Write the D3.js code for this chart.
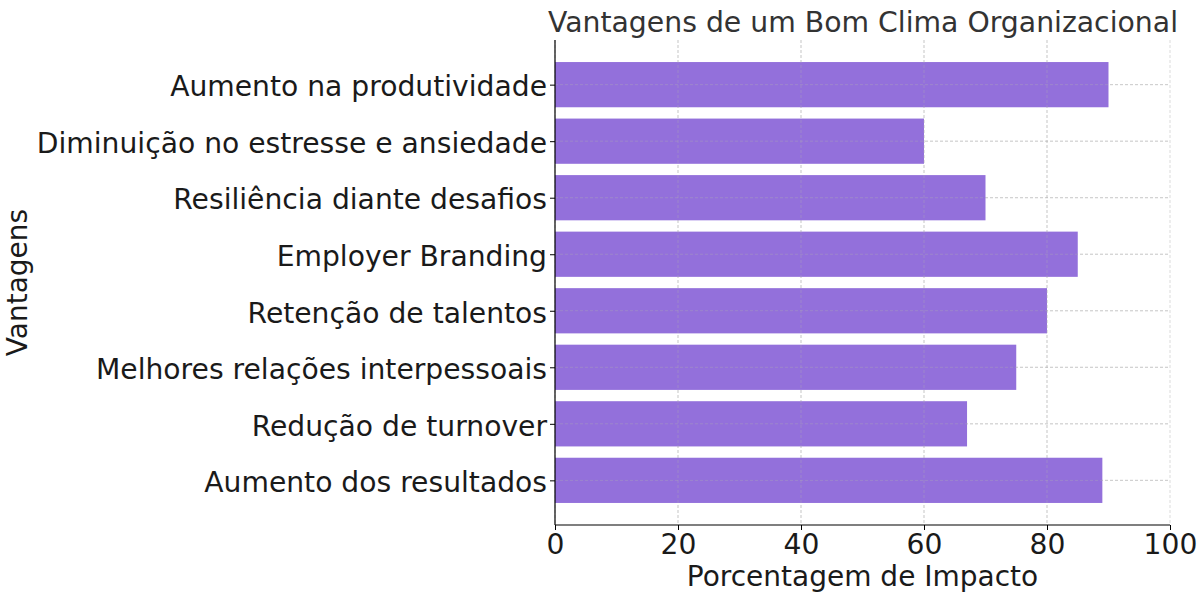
<!DOCTYPE html>
<html>
<head>
<meta charset="utf-8">
<script src="https://cdn.jsdelivr.net/npm/d3@7"></script>
<style>
  html, body { margin: 0; padding: 0; background: #fff; }
  svg { display: block; font-family: "DejaVu Sans", sans-serif; }
</style>
</head>
<body>
<svg id="chart" width="1201" height="602"></svg>
<script>
const categories = [
  "Aumento na produtividade",
  "Diminuição no estresse e ansiedade",
  "Resiliência diante desafios",
  "Employer Branding",
  "Retenção de talentos",
  "Melhores relações interpessoais",
  "Redução de turnover",
  "Aumento dos resultados"
];
const values = [90, 60, 70, 85, 80, 75, 67, 89];
const xTicks = [0, 20, 40, 60, 80, 100];
const title = "Vantagens de um Bom Clima Organizacional";
const xLabel = "Porcentagem de Impacto";
const yLabel = "Vantagens";

(function () {
const svg = d3.select("#chart");
const pLeft = 555, pRight = 1170, pTop = 40, pBottom = 525;

const x = d3.scaleLinear().domain([0, 100]).range([pLeft, pRight]);
// matplotlib-style: categories at integer positions, margins 0.05
const n = categories.length;
const lo = -0.4 - 0.05 * (n - 1 + 0.8), hi = (n - 1) + 0.4 + 0.05 * (n - 1 + 0.8);
const yPos = d3.scaleLinear().domain([lo, hi]).range([pTop, pBottom]);
const bh = yPos(0.4) - yPos(-0.4);

function drawGrid(g, xs, op) {
  g.selectAll("line.v").data(xs).join("line").attr("class", "v")
    .attr("x1", d => x(d)).attr("x2", d => x(d))
    .attr("y1", pTop).attr("y2", pBottom)
    .attr("stroke", "#b0b0b0").attr("stroke-opacity", op)
    .attr("stroke-width", 0.8).attr("stroke-dasharray", "3,2");
  g.selectAll("line.h").data(categories).join("line").attr("class", "h")
    .attr("x1", pLeft).attr("x2", pRight)
    .attr("y1", (d, i) => yPos(i)).attr("y2", (d, i) => yPos(i))
    .attr("stroke", "#b0b0b0").attr("stroke-opacity", op)
    .attr("stroke-width", 0.8).attr("stroke-dasharray", "3,2");
}
drawGrid(svg.append("g"), xTicks, 0.6);

// bars
svg.append("g").selectAll("rect").data(values).join("rect")
  .attr("x", x(0))
  .attr("y", (d, i) => yPos(i) - bh / 2)
  .attr("width", d => x(d) - x(0))
  .attr("height", bh)
  .attr("fill", "#9370DB");

drawGrid(svg.append("g"), xTicks.slice(1, -1), 0.45);

// x axis
const xAxis = d3.axisBottom(x).tickValues(xTicks).tickSize(5).tickPadding(4).tickFormat(d3.format("d"));
const gx = svg.append("g").attr("transform", `translate(0,${pBottom})`).call(xAxis);
gx.select(".domain").attr("stroke", "#000").attr("stroke-width", 1.2).attr("d", `M${pLeft},0H${pRight}`);
gx.selectAll(".tick line").attr("stroke", "#000").attr("stroke-width", 1);
gx.selectAll(".tick text").attr("font-size", 28.2).attr("fill", "#1a1a1a").attr("font-family", "DejaVu Sans");

// y axis
const yAxis = d3.axisLeft(yPos).tickValues(d3.range(n)).tickSize(5).tickPadding(3).tickFormat(i => categories[i]);
const gy = svg.append("g").attr("transform", `translate(${pLeft},0)`).call(yAxis);
gy.select(".domain").attr("stroke", "#000").attr("stroke-width", 1.2).attr("d", `M0,${pTop}V${pBottom}`);
gy.selectAll(".tick line").attr("stroke", "#000").attr("stroke-width", 1);
gy.selectAll(".tick text").attr("font-size", 28.2).attr("fill", "#1a1a1a").attr("font-family", "DejaVu Sans")
  .attr("dy", "0.4em");

// title and labels
svg.append("text").attr("x", (pLeft + pRight) / 2 + 0.5).attr("y", 32)
  .attr("text-anchor", "middle").attr("font-size", 28.3).attr("fill", "#333")
  .text(title);
svg.append("text").attr("x", (pLeft + pRight) / 2).attr("y", 586)
  .attr("text-anchor", "middle").attr("font-size", 28).attr("fill", "#1a1a1a")
  .text(xLabel);
svg.append("text").attr("transform", `translate(27,${(pTop + pBottom) / 2}) rotate(-90)`)
  .attr("text-anchor", "middle").attr("font-size", 28).attr("fill", "#1a1a1a")
  .text(yLabel);
})();
</script>
</body>
</html>
